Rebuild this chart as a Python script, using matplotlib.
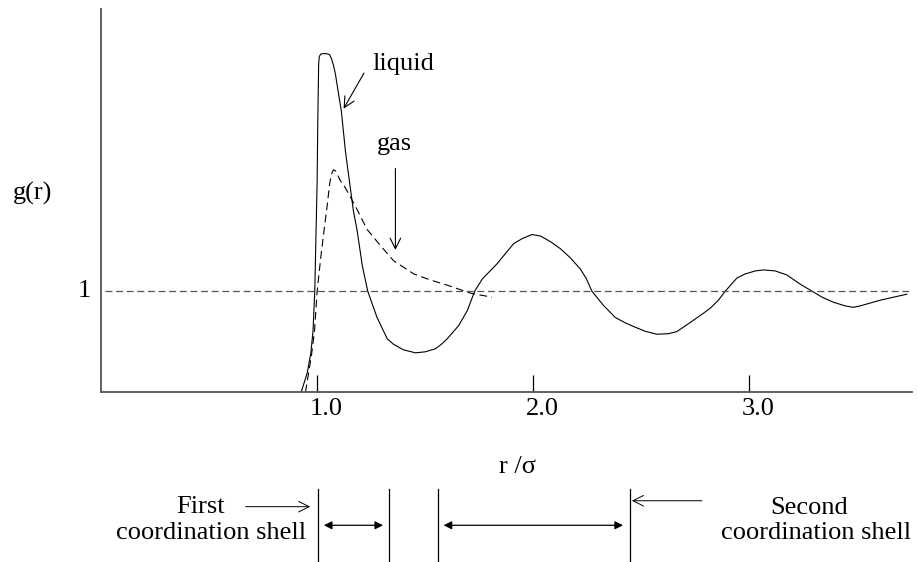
import matplotlib
matplotlib.use("Agg")
import matplotlib.pyplot as plt
from matplotlib.transforms import ScaledTranslation

plt.rcParams['font.family'] = ['Liberation Serif', 'DejaVu Serif']
plt.rcParams['font.size'] = 19

# g(r)
r_liquid = [0.926, 0.954, 0.971, 0.981, 0.989, 1.000, 1.003, 1.007, 1.010, 1.017,
            1.038, 1.057, 1.066, 1.076, 1.085, 1.099, 1.112, 1.131, 1.151, 1.168,
            1.185, 1.209, 1.234, 1.277, 1.324, 1.353, 1.399, 1.455, 1.500, 1.547,
            1.575, 1.602, 1.655, 1.695, 1.729, 1.764, 1.832, 1.909, 1.949, 1.994,
            2.033, 2.079, 2.125, 2.171, 2.217, 2.245, 2.271, 2.324, 2.379, 2.425,
            2.464, 2.518, 2.572, 2.624, 2.664, 2.726, 2.786, 2.818, 2.856, 2.888,
            2.942, 2.980, 3.027, 3.065, 3.119, 3.173, 3.234, 3.289, 3.336, 3.389,
            3.443, 3.481, 3.512, 3.604, 3.728]
g_liquid = [0.00, 0.19, 0.39, 0.61, 1.00, 2.09, 2.68, 3.25, 3.32, 3.345,
            3.35, 3.34, 3.30, 3.23, 3.14, 2.95, 2.78, 2.38, 2.06, 1.79,
            1.60, 1.25, 1.00, 0.74, 0.53, 0.475, 0.42, 0.39, 0.40, 0.43,
            0.475, 0.53, 0.66, 0.81, 1.00, 1.12, 1.27, 1.47, 1.52, 1.56,
            1.545, 1.49, 1.42, 1.33, 1.22, 1.125, 1.00, 0.86, 0.74, 0.687,
            0.65, 0.603, 0.574, 0.579, 0.60, 0.69, 0.78, 0.83, 0.91, 1.00,
            1.13, 1.17, 1.20, 1.21, 1.20, 1.16, 1.07, 1.00, 0.94, 0.89,
            0.854, 0.84, 0.854, 0.91, 0.97]

r_gas = [0.946, 0.974, 0.988, 1.000, 1.015, 1.029, 1.046, 1.058, 1.065, 1.075,
         1.085, 1.108, 1.131, 1.177, 1.231, 1.293, 1.354, 1.447, 1.524, 1.601,
         1.709, 1.809]
g_gas = [0.00, 0.37, 0.61, 1.00, 1.30, 1.55, 1.84, 2.06, 2.15, 2.20,
         2.19, 2.09, 2.02, 1.84, 1.61, 1.45, 1.30, 1.17, 1.11, 1.06,
         0.98, 0.94]

x_ticks = [1.0, 2.0, 3.0]
x_tick_labels = ['1.0', '2.0', '3.0']

# shell boundaries drawn under the axis (r values)
shell_edges = [1.003, 1.334, 1.558, 2.445]
first_span = (1.031, 1.305)
second_span = (1.585, 2.415)

fig = plt.figure(figsize=(9.18, 5.62), dpi=100)
ax = fig.add_axes([0.110, 0.302, 0.8835, 0.682])
ax.set_xlim(0, 3.752)
ax.set_ylim(0, 3.79)

ax.plot(r_liquid, g_liquid, color='black', lw=0.8)
gas, = ax.plot(r_gas, g_gas, color='black', lw=0.8)
gas.set_dashes((7, 4))
ref, = ax.plot([0.02, 3.752], [1, 1], color='#555555', lw=0.9)
ref.set_dashes((5.5, 3))

for side in ['top', 'right']:
    ax.spines[side].set_visible(False)
for side in ['left', 'bottom']:
    ax.spines[side].set_color('#555555')
    ax.spines[side].set_linewidth(1.3)

ax.set_yticks([])
ax.set_xticks(x_ticks)
ax.set_xticklabels(x_tick_labels)
ax.tick_params(axis='x', direction='in', length=12, width=0.9, color='black', pad=4)
for lab in ax.get_xticklabels():
    lab.set_transform(lab.get_transform() + ScaledTranslation(9 / 100, 0, fig.dpi_scale_trans))

# axis labels
ax.text(-0.0845, 1.97, 'g(r)', transform=ax.get_yaxis_transform(), ha='center', va='center')
ax.text(-0.021, 1.0, '1', transform=ax.get_yaxis_transform(), ha='center', va='center')
xt = ax.get_xaxis_transform()
ax.text(1.925, -0.195, 'r /σ', transform=xt, ha='center', va='center')

# curve labels
ax.annotate('', xy=(1.116, 2.78), xytext=(1.223, 3.18),
            arrowprops=dict(arrowstyle='->', color='black', lw=0.8))
ax.text(1.256, 3.19, 'liquid', ha='left', va='baseline')
ax.annotate('', xy=(1.362, 1.38), xytext=(1.362, 2.24),
            arrowprops=dict(arrowstyle='->', color='black', lw=0.8))
ax.text(1.357, 2.40, 'gas', ha='center', va='baseline')

# coordination shells
for r in shell_edges:
    ax.plot([r, r], [-0.2523, -0.4394], transform=xt, color='black', lw=0.9, clip_on=False)
for a, b in [first_span, second_span]:
    ax.annotate('', xy=(b, -0.347), xytext=(a, -0.347), xycoords=xt, textcoords=xt,
                arrowprops=dict(arrowstyle='<|-|>', color='black', lw=0.9,
                                shrinkA=0, shrinkB=0, mutation_scale=12))
ax.annotate('', xy=(0.968, -0.2985), xytext=(0.669, -0.2985), xycoords=xt, textcoords=xt,
            arrowprops=dict(arrowstyle='->', color='black', lw=0.7, shrinkA=0, shrinkB=0))
ax.annotate('', xy=(2.456, -0.283), xytext=(2.780, -0.283), xycoords=xt, textcoords=xt,
            arrowprops=dict(arrowstyle='->', color='black', lw=0.7, shrinkA=0, shrinkB=0))
ax.text(0.460, -0.314, 'First', transform=xt, ha='center', va='baseline')
ax.text(0.949, -0.383, 'coordination shell', transform=xt, ha='right', va='baseline')
ax.text(3.276, -0.318, 'Second', transform=xt, ha='center', va='baseline')
ax.text(3.310, -0.383, 'coordination shell', transform=xt, ha='center', va='baseline')

fig.savefig('out.png', dpi=100)
